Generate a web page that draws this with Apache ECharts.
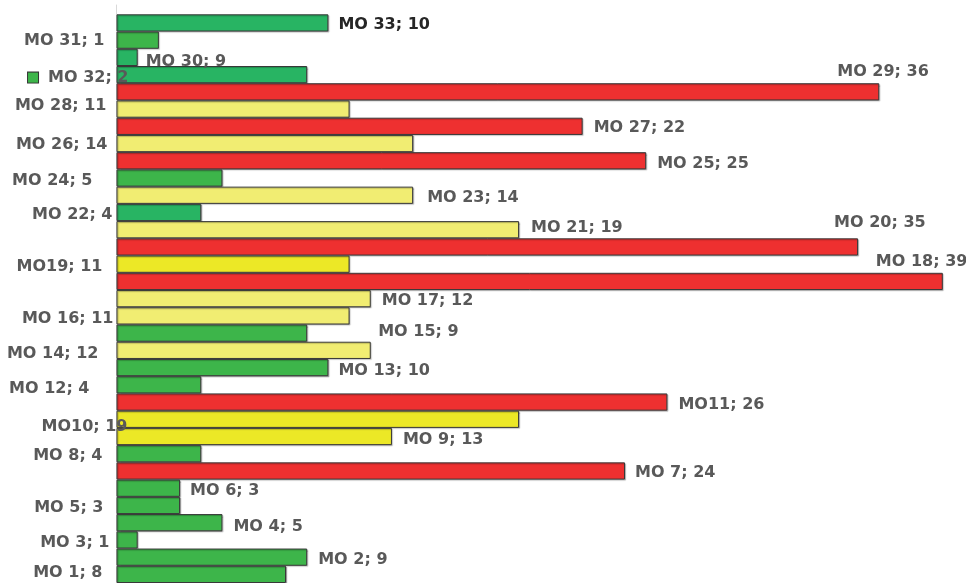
<!DOCTYPE html>
<html>
<head>
<meta charset="utf-8">
<script src="https://cdn.jsdelivr.net/npm/echarts@6/dist/echarts.min.js"></script>
<style>
html,body{margin:0;padding:0;background:#fff;}
#chart{width:966px;height:583px;}
</style>
</head>
<body>
<div id="chart"></div>
<script>
// Rows listed from top to bottom
const categories = ['MO 33','MO 32','MO 31','MO 30','MO 29','MO 28','MO 27','MO 26','MO 25','MO 24','MO 23',
  'MO 22','MO 21','MO 20','MO 19','MO 18','MO 17','MO 16','MO 15','MO 14','MO 13','MO 12','MO 11','MO 10',
  'MO 9','MO 8','MO 7','MO 6','MO 5','MO 4','MO 3','MO 2','MO 1'];
const values = [10,2,1,9,36,11,22,14,25,5,14,4,19,35,11,39,12,11,9,12,10,4,26,19,13,4,24,3,3,5,1,9,8];
const statuses = ['G2','G','G2','G2','R','Y','R','Y','R','G','Y','G2','Y','R','Y2','R','Y','Y','G','Y','G','G','R','Y2',
  'Y2','G','R','G','G','G','G','G','G'];
const labelTexts = ['MO 33; 10','MO 31; 1','MO 30; 9','MO 32; 2','MO 29; 36','MO 28; 11','MO 27; 22','MO 26; 14',
  'MO 25; 25','MO 24; 5','MO 23; 14','MO 22; 4','MO 21; 19','MO 20; 35','MO19; 11','MO 18; 39','MO 17; 12',
  'MO 16; 11','MO 15; 9','MO 14; 12','MO 13; 10','MO 12; 4','MO11; 26','MO10; 19','MO 9; 13','MO 8; 4',
  'MO 7; 24','MO 6; 3','MO 5; 3','MO 4; 5','MO 3; 1','MO 2; 9','MO 1; 8'];

// label placement (style only): [side, distance, dx, dy]
const labelLayout = [
  ['right',10,0,0],['left',12,0,-1],['right',8,0,2],['left',-12,0,1],['right',0,-42,-22],
  ['left',10,0,-5],['right',11,0,0],['left',9,0,-1],['right',11,0,1],['left',24,0,1],
  ['right',14,0,1],['left',4,0,0],['right',12,0,-4],['right',0,-24,-26],['left',14,0,1],
  ['right',0,-67,-22],['right',11,0,0],['left',3,0,1],['right',71,0,-3],['left',18,0,1],
  ['right',10,0,1],['left',27,0,2],['right',11,0,1],['left',-11,0,6],['right',11,0,1],
  ['left',14,0,0],['right',10,0,0],['right',10,0,1],['left',13,0,0],['right',11,0,2],
  ['left',7,0,1],['right',11,0,1],['left',14,0,-4]
];
const labelShiftY = 2;
const colors = {R:'#ee3030', Y:'#f1ed72', Y2:'#ece826', G:'#3db54a', G2:'#28b463'};

const data = values.map((v,i) => {
  const L = labelLayout[i];
  const lab = {
    position: L[0], distance: L[1], offset: [L[2], L[3] + labelShiftY],
    formatter: labelTexts[i]
  };
  if (i === 0) lab.color = '#262626';
  if (i === 3) {
    lab.formatter = '{sq|}{t|' + labelTexts[i] + '}';
    lab.rich = {
      sq: {width: 10, height: 10, backgroundColor: colors.G, borderColor: '#333', borderWidth: 1},
      t: {padding: [0,0,0,10], fontFamily: 'DejaVu Sans', fontWeight: 'bold', fontSize: 16, color: '#595959'}
    };
  }
  return {value: v, itemStyle: {color: colors[statuses[i]]}, label: lab};
});

const chart = echarts.init(document.getElementById('chart'));
chart.setOption({
  animation: false,
  grid: [
    {left: 116.5, right: 2, top: 14.3, bottom: -2.5},
    {left: 116, right: 2, top: 5, bottom: -3}
  ],
  xAxis: [
    {type: 'value', min: 0, max: 40, show: false, gridIndex: 0},
    {type: 'value', min: 0, max: 40, show: false, gridIndex: 1}
  ],
  yAxis: [
    {type: 'category', data: categories, inverse: true, gridIndex: 0,
     axisLine: {show: false}, axisTick: {show: false}, axisLabel: {show: false}},
    {type: 'category', data: [''], gridIndex: 1,
     axisLine: {show: true, lineStyle: {color: '#d9d9d9', width: 1}},
     axisTick: {show: false}, axisLabel: {show: false}}
  ],
  series: [{
    type: 'bar',
    xAxisIndex: 0, yAxisIndex: 0,
    barCategoryGap: '0%',
    data: data,
    itemStyle: {borderColor: '#383838', borderWidth: 1,
      shadowColor: 'rgba(0,0,0,0.25)', shadowBlur: 1, shadowOffsetX: 1, shadowOffsetY: 1},
    label: {show: true, fontFamily: 'DejaVu Sans', fontWeight: 'bold', fontSize: 16, color: '#595959'}
  }]
});
</script>
</body>
</html>
